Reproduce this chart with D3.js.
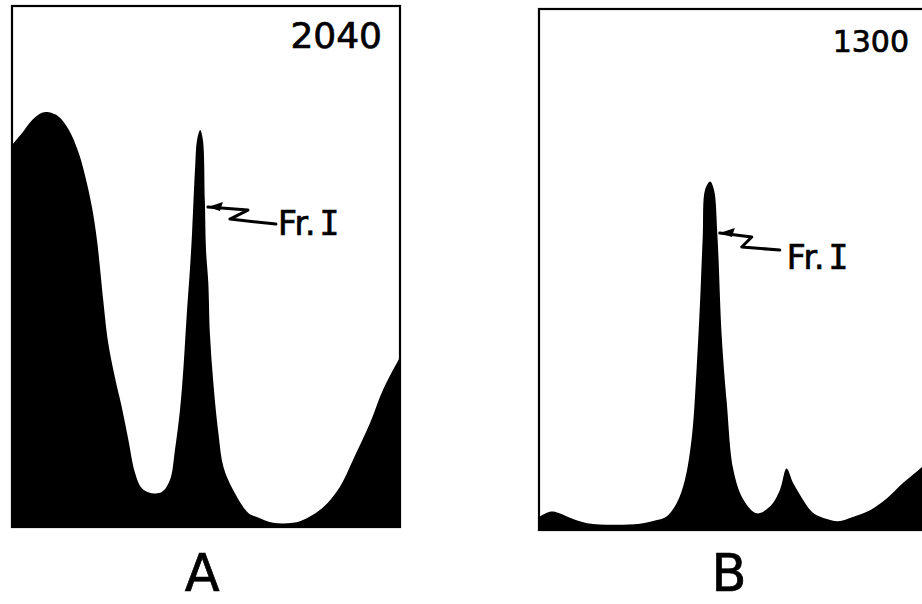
<!DOCTYPE html>
<html>
<head>
<meta charset="utf-8">
<script src="https://cdn.jsdelivr.net/npm/d3@7"></script>
<style>
	body { margin: 0; background: #fff; }
	svg text { font-family: "DejaVu Sans", sans-serif; fill: #000; stroke: #000; stroke-width: 0.7px; }
</style>
</head>
<body>
<div id="chart"></div>
<script>
// elution position (0-100 across the panel) and absorbance (0-100 of panel height)
var posA = [0, 2.6, 5.2, 7.7, 9.5, 12.0, 14.6, 17.2, 19.3, 20.6, 21.9, 22.8, 23.5, 24.8, 26.5, 28.3, 30.0, 31.7, 33.4, 36.0, 38.6, 40.7, 42.0, 43.3, 44.2, 45.0, 45.9, 46.4, 47.2, 47.7, 48.5, 49.2, 49.7, 50.0, 50.6, 51.0, 51.9, 53.2, 54.5, 57.0, 60.9, 63.1, 67.3, 72.4, 76.0, 80.2, 84.5, 87.9, 92.3, 95.6, 100];
var absA = [73.3, 75.6, 78.1, 79.5, 79.6, 78.8, 76.3, 71.8, 66.0, 61.4, 55.1, 48.8, 43.6, 35.3, 28.8, 23.0, 16.7, 10.4, 7.5, 6.5, 6.7, 9.0, 14.8, 22.5, 30.7, 40.3, 49.9, 56.4, 69.1, 74.3, 76.2, 74.3, 62.8, 53.2, 46.8, 37.2, 27.6, 18.0, 11.5, 7.1, 2.7, 1.9, 0.8, 0.8, 1.7, 3.8, 7.7, 12.9, 20.0, 26.3, 32.6];

var posB = [0, 2.8, 4.9, 8.8, 12.4, 19.1, 26.0, 30.4, 32.9, 35.5, 37.6, 39.4, 40.6, 41.5, 42.2, 42.8, 44.1, 45.1, 46.0, 47.1, 48.4, 50.1, 52.7, 56.1, 59.5, 62.1, 63.8, 65.5, 67.8, 70.6, 74.2, 77.1, 80.9, 85.3, 89.7, 93.8, 98.7, 100];
var absB = [2.5, 3.5, 3.3, 2.1, 1.3, 1.0, 1.2, 1.9, 2.6, 5.2, 9.6, 17.9, 30.7, 43.6, 56.3, 65.3, 66.9, 65.3, 56.3, 37.1, 24.4, 11.5, 5.8, 3.2, 4.5, 7.7, 11.8, 9.0, 6.1, 3.3, 2.1, 1.7, 2.5, 3.8, 6.1, 9.0, 12.1, 13.1];

var panelLetters = ["A", "B"];
var runLabels = ["2040", "1300"];
var peakLabel = ["Fr.", "I"];
// where the Fr. I arrow touches the peak (data units)
var arrowTip = [[50.5, 61.4], [46.6, 57.0]];

var width = 922, height = 604;
var panels = [
	{ left: 12, top: 6, w: 388, h: 521, pos: posA, abs: absA, numSize: 36, numBase: 42,
		squiggle: [[0, 0], [40, 3], [22, 12], [68, 17]], textDx: 70, textDy: 28 },
	{ left: 539, top: 9, w: 388, h: 521, pos: posB, abs: absB, numSize: 30, numBase: 43,
		squiggle: [[0, 0], [32, 4], [22, 14], [60, 17]], textDx: 67, textDy: 36 }
];

var svg = d3.select("#chart").append("svg")
	.attr("width", width)
	.attr("height", height);

panels.forEach(function(p, i) {
	var x = d3.scaleLinear().domain([0, 100]).range([0, p.w]);
	var y = d3.scaleLinear().domain([0, 100]).range([p.h, 0]);

	var g = svg.append("g")
		.attr("transform", "translate(" + p.left + "," + p.top + ")");

	g.append("clipPath")
		.attr("id", "clip" + i)
		.append("rect")
		.attr("width", p.w)
		.attr("height", p.h);

	var pts = p.pos.map(function(v, k) { return [v, p.abs[k]]; });

	var area = d3.area()
		.x(function(d) { return x(d[0]); })
		.y0(y(0))
		.y1(function(d) { return y(d[1]); })
		.curve(d3.curveCatmullRom.alpha(0.5));

	g.append("path")
		.datum(pts)
		.attr("clip-path", "url(#clip" + i + ")")
		.attr("fill", "#000")
		.attr("d", area);

	// frame
	g.append("rect")
		.attr("width", p.w)
		.attr("height", p.h)
		.attr("fill", "none")
		.attr("stroke", "#000")
		.attr("stroke-width", 2.2);

	// run number, top right
	g.append("text")
		.attr("x", p.w - 18)
		.attr("y", p.numBase)
		.attr("text-anchor", "end")
		.attr("font-size", p.numSize + "px")
		.text(runLabels[i]);

	// panel letter underneath
	svg.append("text")
		.attr("x", p.left + p.w * 0.49)
		.attr("y", 591)
		.attr("text-anchor", "middle")
		.attr("font-size", "51px")
		.text(panelLetters[i]);

	// squiggly arrow to the peak
	var tx = x(arrowTip[i][0]), ty = y(arrowTip[i][1]);
	var line = d3.line().curve(d3.curveLinear);
	g.append("path")
		.attr("d", line(p.squiggle.map(function(s) { return [tx + s[0], ty + s[1]]; })))
		.attr("fill", "none")
		.attr("stroke", "#000")
		.attr("stroke-width", 3)
		.attr("stroke-linejoin", "round")
		.attr("stroke-linecap", "round");
	g.append("path")
		.attr("d", line([[tx, ty], [tx + 15, ty - 5], [tx + 12, ty + 4]]) + "Z")
		.attr("fill", "#000");

	var lab = g.append("text")
		.attr("x", tx + p.textDx)
		.attr("y", ty + p.textDy)
		.attr("font-size", "33px");
	lab.append("tspan").text(peakLabel[0]);
	lab.append("tspan")
		.style("font-family", "'DejaVu Sans Mono', monospace")
		.attr("dx", 4)
		.text(peakLabel[1]);
});
</script>
</body>
</html>
